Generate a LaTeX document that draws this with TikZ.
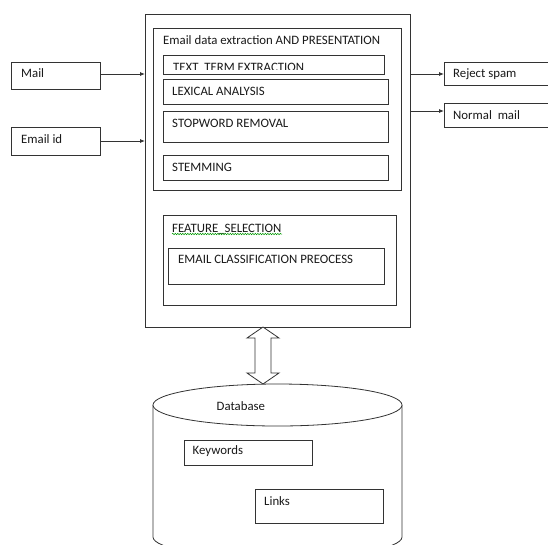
\documentclass[tikz,border=0pt]{standalone}
\usepackage{fontspec}
\setmainfont{Carlito}
\usetikzlibrary{arrows.meta,decorations.pathmorphing}
\tikzset{
  box/.style={draw=black!80, line width=0.8pt, fill=white, anchor=north west, inner sep=0pt},
  txt/.style={anchor=base west, inner sep=0pt, font=\fontsize{12.8}{15}\selectfont, text=black!90},
  link/.style={draw=black!80, line width=0.8pt, -{Latex[length=5pt,width=4pt]}},
}
\begin{document}
\begin{tikzpicture}[x=1pt,y=-1pt]
\useasboundingbox (0,0) rectangle (548,544);
\clip (0,0) rectangle (548,544);

% main processing block
\node[box, minimum width=265pt, minimum height=313pt] (main) at (145,14) {};
\node[box, minimum width=248pt, minimum height=162pt] (extract) at (153,28) {};
\node[txt] (extractlbl) at (163,44) {Email data extraction AND PRESENTATION};

\node[box, minimum width=221pt, minimum height=19pt] (term) at (163,55) {};
\begin{scope}
  \clip (163,55) rectangle (384,69);
  \node[txt] (termlbl) at (173,71) {TEXT\ \ TERM EXTRACTION};
\end{scope}
\node[box, minimum width=225pt, minimum height=25pt] (lex) at (163,79) {};
\node[txt] (lexlbl) at (172,95) {LEXICAL ANALYSIS};
\node[box, minimum width=225pt, minimum height=31pt] (stop) at (163,111) {};
\node[txt] (stoplbl) at (172,127) {STOPWORD REMOVAL};
\node[box, minimum width=225pt, minimum height=25pt] (stem) at (163,155) {};
\node[txt] (stemlbl) at (172,171) {STEMMING};

\node[box, minimum width=233pt, minimum height=90pt] (feat) at (163,215) {};
\node[txt] (featlbl) at (172,232) {FEATURE\_SELECTION};
\draw[green!60!black, line width=0.5pt, decorate,
      decoration={snake, amplitude=0.7pt, segment length=2.5pt}]
  (172,234) -- (282,234);
\node[box, minimum width=216pt, minimum height=36pt] (classify) at (168,248) {};
\node[txt] (classifylbl) at (178,263) {EMAIL CLASSIFICATION PREOCESS};

% inputs
\node[box, minimum width=89pt, minimum height=27pt] (mail) at (11,62) {};
\node[txt] (maillbl) at (21,77) {Mail};
\node[box, minimum width=89pt, minimum height=28pt] (emailid) at (11,127) {};
\node[txt] (emailidlbl) at (21,143) {Email id};
\coordinate (mailout) at (100,74);
\coordinate (idout) at (100,141);
\draw[link] (mailout) -- (main.west |- mailout);
\draw[link] (idout) -- (main.west |- idout);

% outputs
\node[box, minimum width=120pt, minimum height=23pt] (spam) at (444,62) {};
\node[txt] (spamlbl) at (453,77) {Reject spam};
\node[box, minimum width=120pt, minimum height=24pt] (normal) at (444,103) {};
\node[txt] (normallbl) at (453,119.5) {Normal\ \ mail};
\coordinate (spamin) at (444,74);
\coordinate (normalin) at (444,111);
\draw[link] (main.east |- spamin) -- (spamin);
\draw[link] (main.east |- normalin) -- (normalin);

% two-way block arrow
\draw[draw=black!80, line width=0.8pt, fill=white]
  (263,327) -- (279,338) -- (271,338) -- (271,373) -- (279,373) -- (263,384)
  -- (247,373) -- (255,373) -- (255,338) -- (247,338) -- cycle;

% database cylinder
\draw[draw=black!80, line width=0.8pt, fill=white]
  (153,405) -- (153,537) arc[start angle=180, end angle=360, x radius=124.5pt, y radius=21pt]
  -- (402,405);
\draw[draw=black!80, line width=0.8pt, fill=white]
  (277.5,405) ellipse[x radius=124.5pt, y radius=21pt];
\begin{scope}
  \clip (200,395) rectangle (300,409.3);
  \node[txt] (dblbl) at (216.5,410.5) {Database};
\end{scope}
\node[box, minimum width=128pt, minimum height=25pt] (keywords) at (184,440) {};
\node[txt] (keywordslbl) at (192.5,454) {Keywords};
\node[box, minimum width=128pt, minimum height=34pt] (links) at (255,489) {};
\node[txt] (linkslbl) at (264,505) {Links};
\end{tikzpicture}
\end{document}
